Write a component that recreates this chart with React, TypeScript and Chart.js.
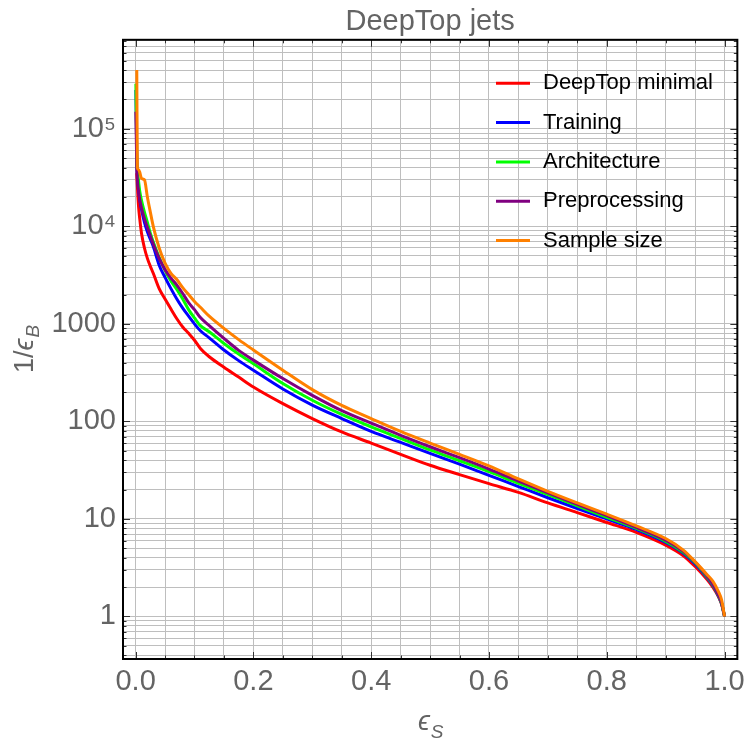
import React, { useEffect, useRef } from 'react';
import { Chart, registerables } from 'chart.js';

Chart.register(...registerables);

const FONT = "'Liberation Sans', Arial, Helvetica, sans-serif";
const GRAY = '#646464';

const chartTitle = 'DeepTop jets';

// signal efficiency grid
const effS = [
  0.0005, 0.002, 0.003, 0.005, 0.007, 0.01, 0.015, 0.02, 0.025, 0.03, 0.04, 0.05, 0.06, 0.07, 0.08,
  0.09, 0.1, 0.11, 0.125, 0.15, 0.175, 0.2, 0.25, 0.3, 0.35, 0.4, 0.45, 0.5, 0.55, 0.6, 0.65, 0.7,
  0.75, 0.8, 0.85, 0.9, 0.93, 0.95, 0.97, 0.98, 0.99, 0.995, 1.0,
];

// 1/epsilon_B for each series
const deepTopMinimal = [
  null, 35000, 26000, 16000, 12000, 8500, 6000, 4700, 3900, 3300, 2300, 1800, 1420, 1130, 930,
  800, 680, 560, 460, 360, 285, 225, 152, 107, 78, 60, 46, 35.5, 28.5, 23, 18.7, 14.6,
  11.6, 9.2, 7.3, 5.4, 4.2, 3.25, 2.4, 2.0, 1.58, 1.33, 1,
];
const training = [
  250000, 50000, 35000, 25000, 19000, 15000, 11000, 8800, 7400, 6200, 4000, 3000, 2300, 1800, 1450,
  1200, 1000, 850, 720, 540, 420, 335, 215, 147, 107, 79, 61, 47, 36.5, 28, 21.5, 16.5,
  12.8, 10, 7.8, 5.75, 4.45, 3.45, 2.5, 2.08, 1.6, 1.35, 1,
];
const architecture = [
  290000, 48000, 38000, 29000, 23000, 18500, 14000, 11000, 8500, 6900, 4800, 3550, 2750, 2250, 1800,
  1400, 1150, 960, 830, 630, 490, 390, 245, 165, 118, 88, 67, 51, 39.5, 30.5, 23.2, 17.8,
  13.6, 10.4, 8.0, 5.9, 4.55, 3.55, 2.55, 2.12, 1.62, 1.36, 1,
];
const preprocessing = [
  150000, 40000, 30000, 23000, 19000, 15500, 12000, 9800, 8000, 6600, 4700, 3600, 2950, 2500, 2050,
  1650, 1400, 1160, 960, 710, 535, 425, 275, 185, 129, 96, 72, 55, 42.5, 32.5, 24.5, 18.5,
  14.1, 10.8, 8.2, 6.05, 4.65, 3.62, 2.6, 2.16, 1.64, 1.38, 1,
];
const sampleSize = [
  null, 400000, 40000, 38000, 36000, 31000, 30000, 20000, 14000, 10000, 6000, 4200, 3300, 2850, 2350,
  2000, 1700, 1480, 1200, 900, 690, 540, 335, 212, 146, 107, 79, 60, 46, 35, 25.7, 19.2,
  14.6, 11.2, 8.5, 6.3, 4.8, 3.65, 2.7, 2.3, 1.78, 1.48, 1,
];

const seriesNames = ['DeepTop minimal', 'Training', 'Architecture', 'Preprocessing', 'Sample size'];
const seriesColors = ['#ff0000', '#0000ff', '#00ff00', '#800080', '#ff8000'];
const seriesValues = [deepTopMinimal, training, architecture, preprocessing, sampleSize];

const xTickValues = [
  0, 0.05, 0.1, 0.15, 0.2, 0.25, 0.3, 0.35, 0.4, 0.45, 0.5, 0.55, 0.6, 0.65, 0.7, 0.75, 0.8, 0.85,
  0.9, 0.95, 1.0,
];
const xLabelValues = [0, 0.2, 0.4, 0.6, 0.8, 1.0];
const xLabelTexts = ['0.0', '0.2', '0.4', '0.6', '0.8', '1.0'];

const yLabelValues = [1, 10, 100, 1000, 10000, 100000];
const yLabelTexts = ['1', '10', '100', '1000', '10\u2074', '10\u2075'];

const X_MIN = -0.0214;
const X_MAX = 1.0217;
const Y_MIN = 0.3665;
const Y_MAX = 8.18e5;

function buildYTicks(): number[] {
  const out: number[] = [];
  for (let e = -1; e <= 5; e++) {
    for (let m = 1; m <= 9; m++) {
      const v = parseFloat((m * Math.pow(10, e)).toPrecision(6));
      if (v >= Y_MIN && v <= Y_MAX) out.push(v);
    }
  }
  return out;
}
const yTickValues = buildYTicks();

function isDecade(v: number) {
  const l = Math.log10(v);
  return Math.abs(l - Math.round(l)) < 1e-9;
}

const extrasPlugin = {
  id: 'extras',
  afterDraw(chart: any) {
    const ctx = chart.ctx as CanvasRenderingContext2D;
    const ca = chart.chartArea;
    const xs = chart.scales.x;
    const ys = chart.scales.y;
    ctx.save();

    // ticks inside frame
    ctx.strokeStyle = '#333333';
    ctx.lineWidth = 1;
    ctx.beginPath();
    for (const v of xTickValues) {
      const px = Math.round(xs.getPixelForValue(v)) + 0.5;
      const major = xLabelValues.some((m) => Math.abs(m - v) < 1e-9);
      const len = major ? 7 : 3.5;
      ctx.moveTo(px, ca.bottom);
      ctx.lineTo(px, ca.bottom - len);
      ctx.moveTo(px, ca.top);
      ctx.lineTo(px, ca.top + len);
    }
    for (const v of yTickValues) {
      const py = Math.round(ys.getPixelForValue(v)) + 0.5;
      const len = isDecade(v) ? 7 : 3.5;
      ctx.moveTo(ca.left, py);
      ctx.lineTo(ca.left + len, py);
      ctx.moveTo(ca.right, py);
      ctx.lineTo(ca.right - len, py);
    }
    ctx.stroke();

    // frame
    ctx.strokeStyle = '#000000';
    ctx.lineWidth = 2;
    ctx.strokeRect(ca.left, ca.top, ca.right - ca.left, ca.bottom - ca.top);

    // legend
    const legX0 = 496;
    const legX1 = 530;
    const legTextX = 543;
    const legY0 = 83.3;
    const legStep = 39.3;
    ctx.font = `22px ${FONT}`;
    ctx.textBaseline = 'middle';
    ctx.textAlign = 'left';
    seriesNames.forEach((name, i) => {
      const y = legY0 + i * legStep;
      ctx.strokeStyle = seriesColors[i];
      ctx.lineWidth = 3;
      ctx.beginPath();
      ctx.moveTo(legX0, y);
      ctx.lineTo(legX1, y);
      ctx.stroke();
      ctx.fillStyle = '#000000';
      ctx.fillText(name, legTextX, y);
    });

    // x axis title: epsilon_S
    ctx.fillStyle = GRAY;
    ctx.textBaseline = 'alphabetic';
    const mainFont = `italic 27px ${FONT}`;
    const subFont = `italic 19px ${FONT}`;
    const eps = '\u03F5';
    ctx.font = mainFont;
    const wE = ctx.measureText(eps).width;
    ctx.font = subFont;
    const wS = ctx.measureText('S').width;
    const cx = (ca.left + ca.right) / 2;
    const sx = cx - (wE + wS) / 2;
    ctx.font = mainFont;
    ctx.fillText(eps, sx, 730);
    ctx.font = subFont;
    ctx.fillText('S', sx + wE + 1, 738);

    // y axis title: 1/epsilon_B
    ctx.save();
    const cy = (ca.top + ca.bottom) / 2;
    ctx.translate(33, cy);
    ctx.rotate(-Math.PI / 2);
    ctx.font = `27px ${FONT}`;
    const w1 = ctx.measureText('1/').width;
    ctx.font = mainFont;
    const w2 = ctx.measureText(eps).width;
    ctx.font = subFont;
    const w3 = ctx.measureText('B').width;
    const start = -(w1 + w2 + w3) / 2;
    ctx.font = `27px ${FONT}`;
    ctx.fillText('1/', start, 0);
    ctx.font = mainFont;
    ctx.fillText(eps, start + w1, 0);
    ctx.font = subFont;
    ctx.fillText('B', start + w1 + w2 + 1, 6);
    ctx.restore();

    ctx.restore();
  },
};

export default function App() {
  const canvasRef = useRef<HTMLCanvasElement | null>(null);

  useEffect(() => {
    const canvas = canvasRef.current;
    if (!canvas) return;

    const datasets = seriesNames.map((name, i) => ({
      label: name,
      data: effS.map((x, j) => ({ x, y: seriesValues[i][j] })),
      borderColor: seriesColors[i],
      backgroundColor: seriesColors[i],
      borderWidth: 3,
      pointRadius: 0,
      cubicInterpolationMode: 'monotone',
      fill: false,
      spanGaps: false,
      order: seriesNames.length - i,
    }));

    const tickFont = { family: FONT, size: 29, weight: 'normal' as const, lineHeight: 1.2 };

    const chart = new Chart(canvas, {
      type: 'line',
      data: { datasets },
      options: {
        animation: false,
        responsive: false,
        maintainAspectRatio: false,
        layout: { padding: { left: 0, right: 8, top: 0, bottom: 0 } },
        plugins: {
          legend: { display: false },
          tooltip: { enabled: false },
          title: {
            display: true,
            text: chartTitle,
            color: GRAY,
            fullSize: false,
            font: { family: FONT, size: 29, weight: 'normal', lineHeight: 1.2 },
            padding: { top: 5, bottom: 0 },
          },
        },
        scales: {
          x: {
            type: 'linear',
            min: X_MIN,
            max: X_MAX,
            afterBuildTicks: (s: any) => {
              s.ticks = xTickValues.map((v) => ({ value: v }));
            },
            afterFit: (s: any) => {
              s.height = 83;
            },
            ticks: {
              autoSkip: false,
              maxRotation: 0,
              minRotation: 0,
              padding: 6,
              color: GRAY,
              font: tickFont,
              callback: (v: any) => {
                const k = xLabelValues.findIndex((m) => Math.abs(m - Number(v)) < 1e-9);
                return k >= 0 ? xLabelTexts[k] : '';
              },
            },
            grid: { color: '#bebebe', lineWidth: 1, drawTicks: false },
            border: { display: false },
          },
          y: {
            type: 'logarithmic',
            min: Y_MIN,
            max: Y_MAX,
            afterBuildTicks: (s: any) => {
              s.ticks = yTickValues.map((v) => ({ value: v, major: isDecade(v) }));
            },
            afterFit: (s: any) => {
              s.width = 123;
            },
            ticks: {
              autoSkip: false,
              padding: 7,
              color: GRAY,
              font: tickFont,
              callback: (v: any) => {
                const k = yLabelValues.findIndex((m) => Math.abs(m - Number(v)) / m < 1e-9);
                return k >= 0 ? yLabelTexts[k] : '';
              },
            },
            grid: { color: '#bebebe', lineWidth: 1, drawTicks: false },
            border: { display: false },
          },
        },
      },
      plugins: [extrasPlugin],
    } as any);

    return () => {
      chart.destroy();
    };
  }, []);

  return (
    <div style={{ position: 'absolute', left: 0, top: 0, width: 751, height: 742, background: '#ffffff' }}>
      <canvas ref={canvasRef} width={751} height={742} style={{ display: 'block' }} />
    </div>
  );
}
